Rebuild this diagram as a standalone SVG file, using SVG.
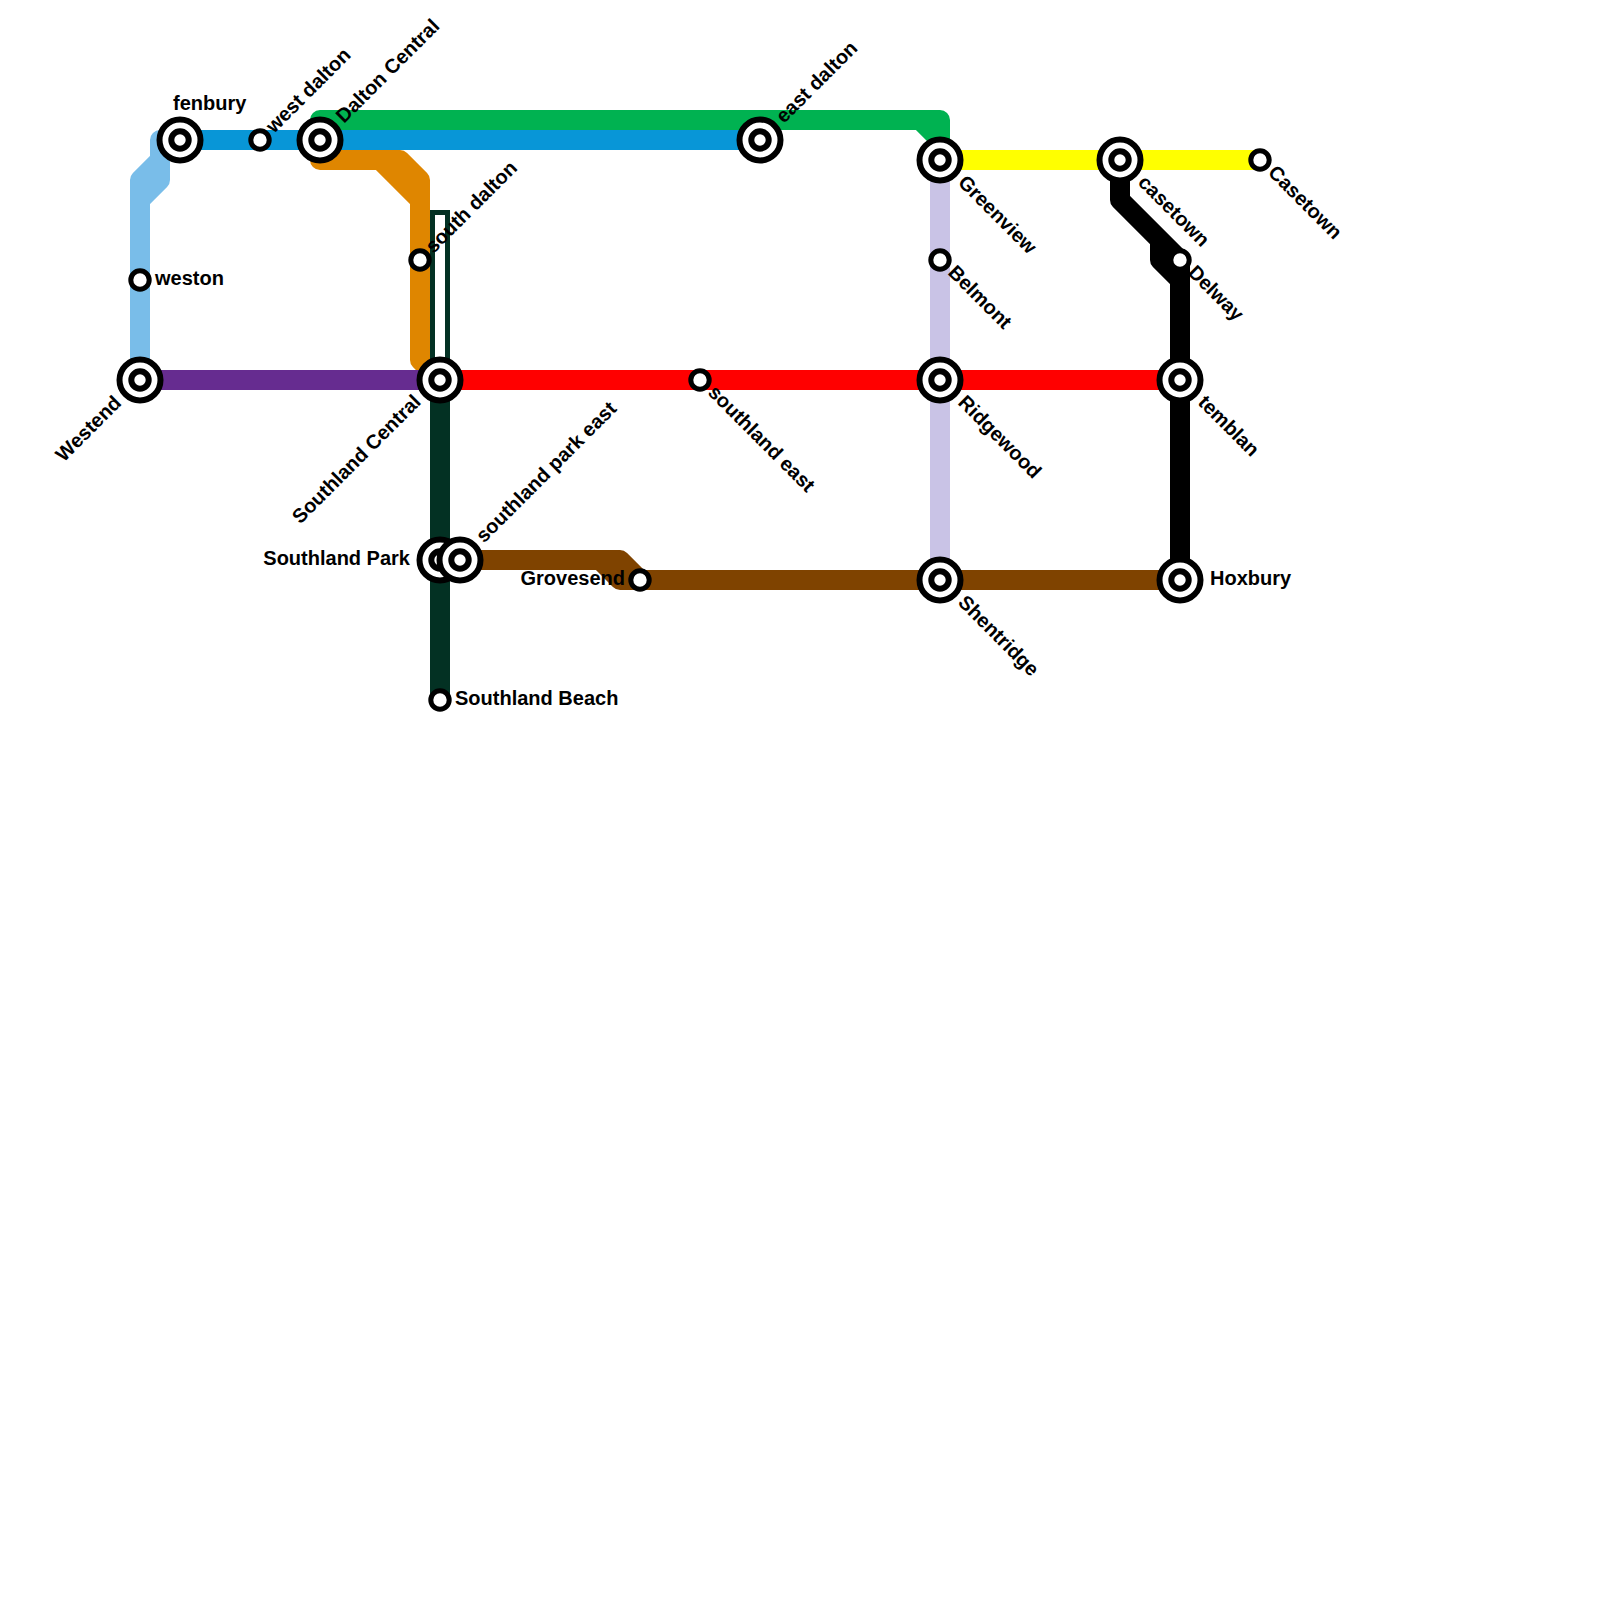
<svg xmlns="http://www.w3.org/2000/svg" width="1600" height="1600" viewBox="0 0 1600 1600">
<defs>
<style>
.l{fill:none;stroke-width:20;stroke-linejoin:round;stroke-linecap:butt}
.t{font-family:"Liberation Sans",Arial,sans-serif;font-weight:bold;font-size:20px;fill:#000}
.o{fill:#fff;stroke:#000;stroke-width:6}
.i{fill:#fff;stroke:#000;stroke-width:6}
.s{fill:#fff;stroke:#000;stroke-width:5}
</style>
<g id="big"><circle class="o" r="20.500"/><circle class="i" r="8.700"/></g>
<circle id="small" class="s" r="9.200"/>
</defs>
<rect width="1600" height="1600" fill="#fff"/>
<g id="connectors">
<path class="l" stroke="#0896d7" d="M180 140H760"/>
<path class="l" stroke="#79bde9" d="M140 380V200L160 180V140H180M140 200V180L160 160"/>
<path class="l" stroke="#00b251" d="M320 140V120H940V160M920 120L940 140"/>
<path class="l" stroke="#df8600" d="M320 140V160H380L420 200V360L430 370M380 160H400L420 180V200"/>
<path fill="#fff" stroke="#033123" stroke-width="5" d="M432.500 380V212.500H447.500V380"/>
<path class="l" stroke="#662c90" d="M140 380H440"/>
<path class="l" stroke="#c9c3e6" d="M940 160V580"/>
<path class="l" stroke="#ff0000" d="M440 380H1180"/>
<path class="l" stroke="#033123" d="M440 380V700"/>
<path class="l" stroke="#ffff00" d="M940 160H1260"/>
<path class="l" stroke="#000" d="M1120 160V200L1180 260V580M1160 240V260L1180 280"/>
<path class="l" stroke="#7f4300" d="M460 560H620L640 580H1180M600 560L620 580H640"/>
</g>
<g id="fenbury"><use href="#big" x="180" y="140"/><text class="t" x="173" y="110">fenbury</text></g>
<g id="west-dalton"><use href="#small" x="260" y="140"/><text class="t" transform="translate(274 134) rotate(-45)">west dalton</text></g>
<g id="dalton-central"><use href="#big" x="320" y="140"/><text class="t" transform="translate(344 124) rotate(-45)">Dalton Central</text></g>
<g id="east-dalton"><use href="#big" x="760" y="140"/><text class="t" transform="translate(784 124) rotate(-45)">east dalton</text></g>
<g id="greenview"><use href="#big" x="940" y="160"/><text class="t" transform="translate(957 183.500) rotate(45)">Greenview</text></g>
<g id="belmont"><use href="#small" x="940" y="260"/><text class="t" transform="translate(947 273.500) rotate(45)">Belmont</text></g>
<g id="ridgewood"><use href="#big" x="940" y="380"/><text class="t" transform="translate(957 403.500) rotate(45)">Ridgewood</text></g>
<g id="shentridge"><use href="#big" x="940" y="580"/><text class="t" transform="translate(957 603.500) rotate(45)">Shentridge</text></g>
<g id="casetown-lower"><use href="#big" x="1120" y="160"/><text class="t" transform="translate(1137 183.500) rotate(45)">casetown</text></g>
<g id="casetown-upper"><use href="#small" x="1260" y="160"/><text class="t" transform="translate(1267 173.500) rotate(45)">Casetown</text></g>
<g id="delway"><circle cx="1180" cy="260" r="9.200" class="s"/><text class="t" transform="translate(1187 273.500) rotate(45)">Delway</text></g>
<g id="temblan"><use href="#big" x="1180" y="380"/><text class="t" transform="translate(1197 403.500) rotate(45)">temblan</text></g>
<g id="hoxbury"><use href="#big" x="1180" y="580"/><text class="t" x="1210" y="585">Hoxbury</text></g>
<g id="westend"><use href="#big" x="140" y="380"/><text class="t" text-anchor="end" transform="translate(122.500 404) rotate(-45)">Westend</text></g>
<g id="weston"><use href="#small" x="140" y="280"/><text class="t" x="155" y="285">weston</text></g>
<g id="south-dalton"><use href="#small" x="420" y="260"/><text class="t" transform="translate(433.500 254) rotate(-45)">south dalton</text></g>
<g id="southland-central"><use href="#big" x="440" y="380"/><text class="t" text-anchor="end" transform="translate(422 403) rotate(-45)">Southland Central</text></g>
<g id="southland-park"><use href="#big" x="440" y="560"/><text class="t" text-anchor="end" x="410" y="565">Southland Park</text></g>
<g id="southland-park-east"><use href="#big" x="460" y="560"/><text class="t" transform="translate(484 543.500) rotate(-45)">southland park east</text></g>
<g id="grovesend"><use href="#small" x="640" y="580"/><text class="t" text-anchor="end" x="625" y="585">Grovesend</text></g>
<g id="southland-east"><use href="#small" x="700" y="380"/><text class="t" transform="translate(707 393.500) rotate(45)">southland east</text></g>
<g id="southland-beach"><use href="#small" x="440" y="700"/><text class="t" x="455" y="705">Southland Beach</text></g>
</svg>
